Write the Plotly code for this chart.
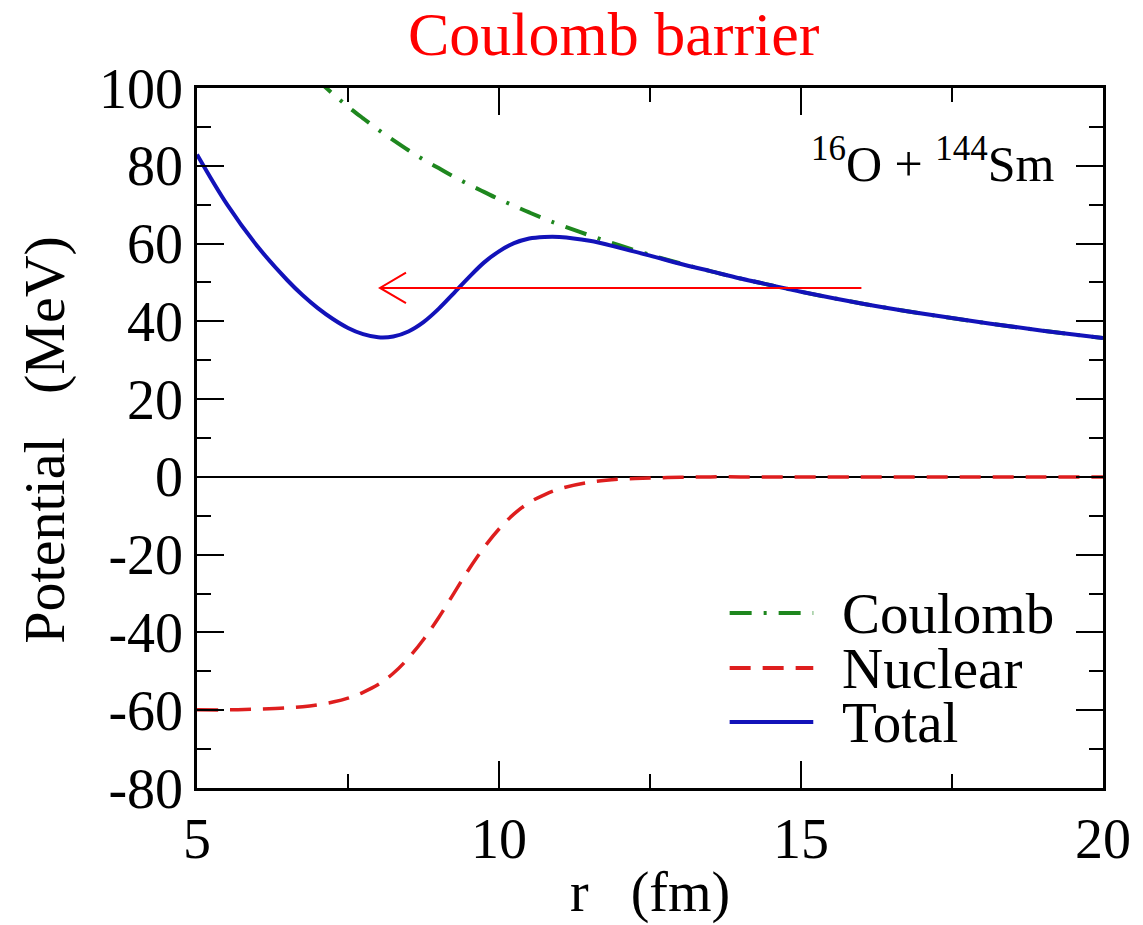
import plotly.graph_objects as go

# ---- data ----
r_vals = [5.0, 5.5, 6.0, 6.5, 6.75, 7.0, 7.25, 7.5, 7.75, 8.0, 8.25, 8.5, 8.75, 9.0, 9.25, 9.5,
          9.75, 10.0, 10.25, 10.5, 10.75, 11.0, 11.5, 12.0, 12.5, 13.0, 13.5, 14.0, 14.5, 15.0,
          16.0, 17.0, 18.0, 19.0, 20.0]
coulomb = [142.8, 129.9, 119.0, 109.9, 105.8, 102.0, 98.5, 95.2, 92.2, 89.3, 86.6, 84.0, 81.6,
           79.4, 77.2, 75.2, 73.3, 71.4, 69.7, 68.0, 66.4, 64.9, 62.1, 59.5, 57.1, 54.9, 52.9,
           51.0, 49.3, 47.6, 44.6, 42.0, 39.7, 37.6, 35.7]
nuclear = [-59.9, -59.9, -59.7, -59.4, -59.1, -58.6, -57.9, -56.9, -55.4, -53.4, -50.5, -46.6,
           -41.8, -36.2, -30.0, -23.8, -18.2, -13.4, -9.5, -6.6, -4.6, -3.1, -1.4, -0.6, -0.3,
           -0.1, 0.0, 0.0, 0.0, 0.0, 0.0, 0.0, 0.0, 0.0, 0.0]
total = [82.9, 70.0, 59.3, 50.5, 46.7, 43.4, 40.6, 38.3, 36.7, 35.9, 36.1, 37.4, 39.8, 43.2,
         47.2, 51.3, 55.1, 58.0, 60.1, 61.3, 61.7, 61.7, 60.7, 58.9, 56.9, 54.8, 52.9, 51.0,
         49.3, 47.6, 44.6, 42.0, 39.7, 37.6, 35.7]

legend_names = ["Coulomb", "Nuclear", "Total"]

x_tickvals = [5, 10, 15, 20]
x_ticktext = ["5", "10", "15", "20"]
y_tickvals = [100, 80, 60, 40, 20, 0, -20, -40, -60, -80]
y_ticktext = ["100", "80", "60", "40", "20", "0", "-20", "-40", "-60", "-80"]

# arrow (energy level pointing inward)
arrow_energy = 48.6
arrow_from = 16.0
arrow_to = 8.03
head_dx = 0.43
head_dy = 3.9

# ---- styles ----
FONT = "Liberation Serif"
GREEN = "rgb(30,135,30)"
RED_D = "rgb(222,30,30)"
BLUE = "rgb(18,18,185)"
DASH_N = "21px,12px"
DASH_C = "22px,12px,3px,12px"

fig = go.Figure()

fig.add_trace(go.Scatter(x=r_vals, y=coulomb, mode="lines", name=legend_names[0],
                         line=dict(color=GREEN, width=4, dash=DASH_C, shape="spline", smoothing=1.0),
                         showlegend=False))
fig.add_trace(go.Scatter(x=r_vals, y=nuclear, mode="lines", name=legend_names[1],
                         line=dict(color=RED_D, width=3.5, dash=DASH_N, shape="spline", smoothing=1.0),
                         showlegend=False))
fig.add_trace(go.Scatter(x=r_vals, y=total, mode="lines", name=legend_names[2],
                         line=dict(color=BLUE, width=4, shape="spline", smoothing=1.0),
                         showlegend=False))

# arrow
fig.add_trace(go.Scatter(
    x=[arrow_from, arrow_to, None, arrow_to + head_dx, arrow_to, arrow_to + head_dx],
    y=[arrow_energy, arrow_energy, None, arrow_energy + head_dy, arrow_energy, arrow_energy - head_dy],
    mode="lines", line=dict(color="#ff0000", width=2), showlegend=False, hoverinfo="skip"))

axis_common = dict(
    showgrid=False, showline=True, linecolor="black", linewidth=2.5, mirror="ticks",
    ticks="inside", ticklen=27, tickwidth=2, tickcolor="black",
    tickfont=dict(family=FONT, size=56, color="black"),
)

fig.update_xaxes(range=[5, 20], tickmode="array", tickvals=x_tickvals, ticktext=x_ticktext,
                 zeroline=False,
                 minor=dict(ticks="inside", ticklen=14, tickwidth=2, tickcolor="black", dtick=2.5,
                            tick0=5, showgrid=False),
                 **axis_common)
fig.update_yaxes(range=[-80, 100], tickmode="array", tickvals=y_tickvals, ticktext=y_ticktext,
                 zeroline=True, zerolinecolor="black", zerolinewidth=1.5,
                 minor=dict(ticks="inside", ticklen=14, tickwidth=2, tickcolor="black", dtick=10,
                            tick0=0, showgrid=False),
                 **axis_common)

W, H = 1143, 925
ML, MR, MT, MB = 197, 36, 88, 137
pw, ph = W - ML - MR, H - MT - MB


def px2paper(px, py):
    return (px - ML) / pw, 1 - (py - MT) / ph


# (text, px x, px y, size, color, anchor, angle)
text_items = [
    ("Coulomb barrier", 616, 34, 62, "#ff0000", "center", 0),
    ("r\u00a0\u00a0\u00a0(fm)", 652, 893, 56, "black", "center", 0),
    ("Potential\u00a0\u00a0\u00a0(MeV)", 43, 440, 58, "black", "center", -90),
    ("<sup>16</sup>O + <sup>144</sup>Sm", 1061, 160, 50, "black", "right", 0),
]
final_ann = []
for txt, x, y, sz, col, anc, ang in text_items:
    px, py = px2paper(x, y)
    final_ann.append(dict(text=txt, x=px, y=py, xref="paper", yref="paper", xanchor=anc,
                          yanchor="middle", showarrow=False, textangle=ang,
                          font=dict(family=FONT, size=sz, color=col)))

# manual legend
legend_rows = [(613, GREEN, DASH_C, 4), (668, RED_D, DASH_N, 4), (722, BLUE, "solid", 4)]
shapes = []
for name, (ly, col, dsh, lw) in zip(legend_names, legend_rows):
    x0, y0 = px2paper(732, ly)
    x1, _ = px2paper(816, ly)
    shapes.append(dict(type="line", xref="paper", yref="paper", x0=x0, x1=x1, y0=y0, y1=y0,
                       line=dict(color=col, width=lw, dash=dsh)))
    tx, ty = px2paper(843, ly)
    final_ann.append(dict(text=name, x=tx, y=ty, xref="paper", yref="paper", xanchor="left",
                          yanchor="middle", showarrow=False,
                          font=dict(family=FONT, size=57, color="black")))

fig.update_layout(
    width=W, height=H, margin=dict(l=ML, r=MR, t=MT, b=MB),
    paper_bgcolor="white", plot_bgcolor="white",
    annotations=final_ann, shapes=shapes, showlegend=False,
)

fig.write_html("out.html")
